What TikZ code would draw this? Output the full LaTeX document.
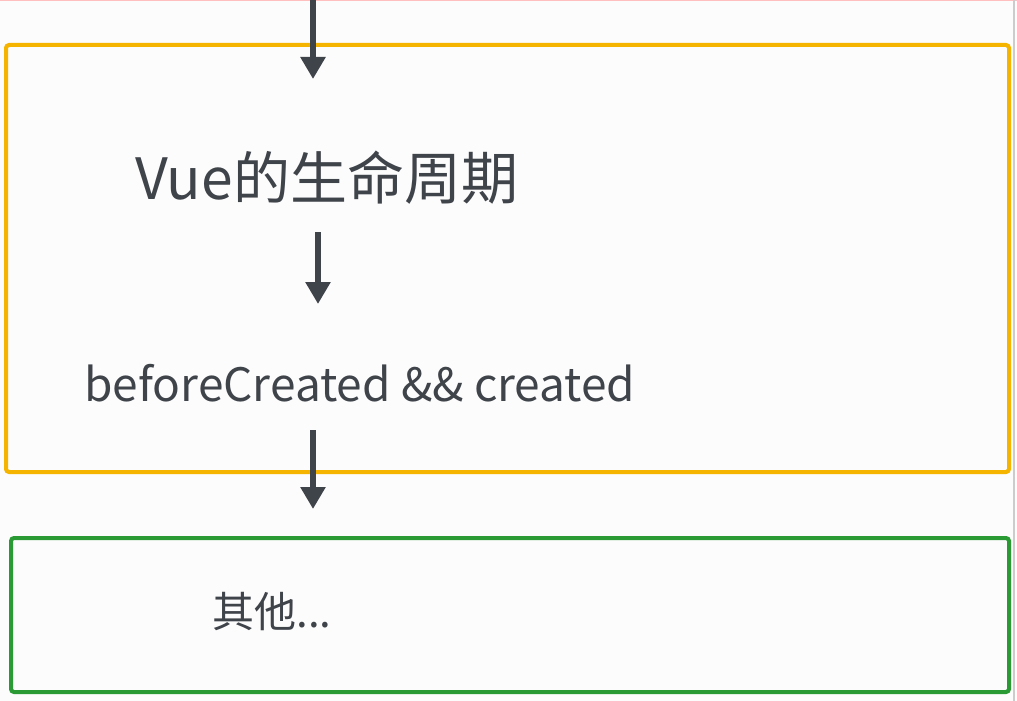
\documentclass[tikz,border=0pt]{standalone}
\usepackage{fontspec}
\setmainfont{Noto Sans CJK SC}
\usetikzlibrary{arrows.meta}
\definecolor{orangebox}{HTML}{F5B400}
\definecolor{greenbox}{HTML}{2A9A35}
\definecolor{txt}{HTML}{3F434A}
\tikzset{
  flow/.style={line width=6pt,draw=txt,-{Triangle[length=22pt,width=24pt]}},
  lbl/.style={text=txt,inner sep=0pt},
}
\begin{document}
\begin{tikzpicture}[x=1pt,y=-1pt]
\fill[white!98!gray] (0,0) rectangle (1017,701);
\useasboundingbox (0,0) rectangle (1017,701);
\draw[red!25,line width=1pt] (0,1) -- (1017,1);
\draw[gray!40,line width=1.5pt] (1014,0) -- (1014,701);
\draw[orangebox,line width=4pt,rounded corners=3pt] (6,45) rectangle (1009,472);
\draw[greenbox,line width=4pt,rounded corners=3pt] (11,538) rectangle (1009,692);
\coordinate (top) at (313,0);
\coordinate (t1) at (313,79);
\node[lbl,font=\fontsize{57}{57}\selectfont] (vue) at (327,178) {Vue的生命周期};
\node[lbl,font=\fontsize{46}{46}\selectfont] (bc) at (360,383) {beforeCreated \&\& created};
\node[lbl,font=\fontsize{42}{42}\selectfont] (other) at (272,612) {其他...};
\coordinate (a2s) at (318,232);
\coordinate (a2e) at (318,304);
\coordinate (a3s) at (313,430);
\coordinate (a3e) at (313,509);
\draw[flow] (top) -- (t1);
\draw[flow] (a2s) -- (a2e);
\draw[flow] (a3s) -- (a3e);
\end{tikzpicture}
\end{document}
